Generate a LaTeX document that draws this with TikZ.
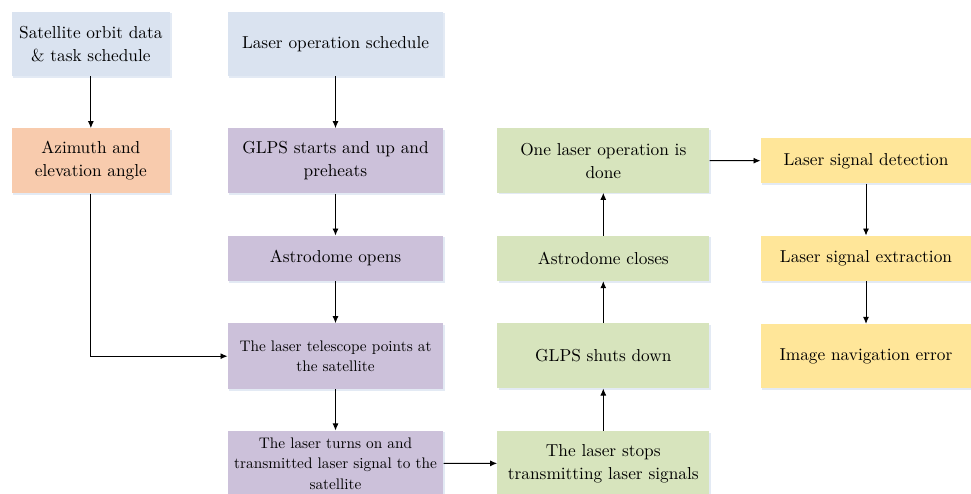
\documentclass[tikz,border=0pt]{standalone}
\usepackage{fontspec}
\setmainfont{lmroman10}[Extension=.otf,UprightFont=*-regular,BoldFont=*-bold,ItalicFont=*-italic]
\usetikzlibrary{arrows.meta,positioning}

\definecolor{cblue}{HTML}{DAE3F0}
\definecolor{corange}{HTML}{F8CBAD}
\definecolor{cpurple}{HTML}{CCC1DA}
\definecolor{cgreen}{HTML}{D7E4BD}
\definecolor{cyellow}{HTML}{FFE699}
\definecolor{cshade}{HTML}{E3EAF4}

\tikzset{
  box/.style={rectangle, inner sep=2pt, align=center, text=black,
    font=\rmfamily\fontsize{17.3}{23}\selectfont,
    preaction={fill=cshade, transform canvas={shift={(1.6pt,-1.6pt)}}}},
  smalltext/.style={font=\rmfamily\fontsize{15.3}{20.5}\selectfont},
  bluebox/.style={box, fill=cblue},
  orangebox/.style={box, fill=corange},
  purplebox/.style={box, fill=cpurple},
  greenbox/.style={box, fill=cgreen},
  yellowbox/.style={box, fill=cyellow},
  flow/.style={draw=black, line width=0.9pt, -{Latex[length=7pt,width=6pt]}}
}

\begin{document}
\begin{tikzpicture}[x=1pt,y=-1pt]
  \useasboundingbox (0,0) rectangle (971,493);
  \clip (0,0) rectangle (971,493);

  % left column
  \node[bluebox, minimum width=158.3pt, minimum height=64.3pt] (sat) at (90.85,43.85)
    {Satellite orbit data\\\& task schedule};
  \node[orangebox, minimum width=158.3pt, minimum height=65pt] (azi) at (90.85,160.8)
    {Azimuth and\\elevation angle};

  % ground station operation column
  \node[bluebox, minimum width=215.6pt, minimum height=64.3pt] (los) at (335.5,43.85)
    {Laser operation schedule};
  \node[purplebox, minimum width=215.6pt, minimum height=65pt] (glps) at (335.5,160.8)
    {GLPS starts and up and\\preheats};
  \node[purplebox, minimum width=215.6pt, minimum height=45.3pt] (open) at (335.5,258.35)
    {Astrodome opens};
  \node[purplebox, smalltext, minimum width=215.6pt, minimum height=65.7pt] (tele) at (335.5,356.2)
    {The laser telescope points at\\the satellite};
  \node[purplebox, smalltext, minimum width=215.6pt, minimum height=65.3pt] (on) at (335.5,463.3)
    {The laser turns on and\\transmitted laser signal to the\\satellite};

  % shutdown column
  \node[greenbox, minimum width=212pt, minimum height=65pt] (stops) at (603.3,463.4)
    {The laser stops\\transmitting laser signals};
  \node[greenbox, minimum width=212pt, minimum height=65pt] (shut) at (603.3,355.8)
    {GLPS shuts down};
  \node[greenbox, minimum width=212pt, minimum height=45.3pt] (close) at (603.3,258.35)
    {Astrodome closes};
  \node[greenbox, minimum width=212pt, minimum height=64.4pt] (done) at (603.3,160.5)
    {One laser operation is\\done};

  % signal processing column
  \node[yellowbox, minimum width=210.6pt, minimum height=45pt] (det) at (866,160.8)
    {Laser signal detection};
  \node[yellowbox, minimum width=210.6pt, minimum height=45.3pt] (ext) at (866,258.35)
    {Laser signal extraction};
  \node[yellowbox, minimum width=210.6pt, minimum height=64.3pt] (nav) at (866,356.2)
    {Image navigation error};

  % connectors
  \draw[flow] (sat) -- (azi);
  \draw[flow] (azi.south) |- (tele.west);
  \draw[flow] (los) -- (glps);
  \draw[flow] (glps) -- (open);
  \draw[flow] (open) -- (tele);
  \draw[flow] (tele) -- (on);
  \draw[flow] (on) -- (stops);
  \draw[flow] (stops) -- (shut);
  \draw[flow] (shut) -- (close);
  \draw[flow] (close) -- (done);
  \draw[flow] (done) -- (det);
  \draw[flow] (det) -- (ext);
  \draw[flow] (ext) -- (nav);
\end{tikzpicture}
\end{document}
